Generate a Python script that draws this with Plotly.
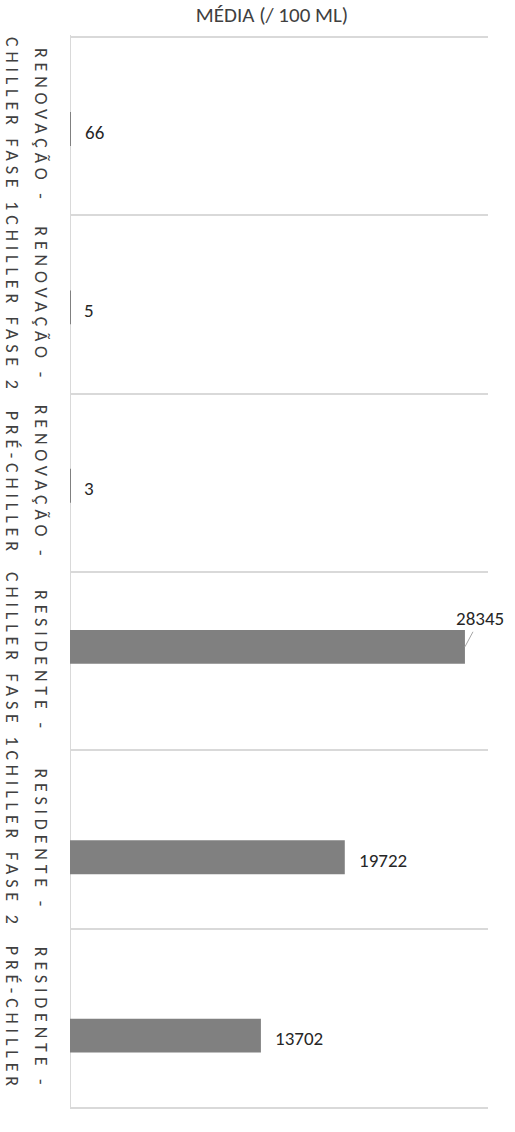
import plotly.graph_objects as go

# Data
categories = [
    "RENOVAÇÃO - CHILLER FASE 1",
    "RENOVAÇÃO - CHILLER FASE 2",
    "RENOVAÇÃO - PRÉ-CHILLER",
    "RESIDENTE - CHILLER FASE 1",
    "RESIDENTE - CHILLER FASE 2",
    "RESIDENTE - PRÉ-CHILLER",
]
# three series as in the source workbook (blank where a series has no value)
serie_1 = [None, None, None, 28345, None, None]
serie_2 = [66, 5, 3, None, None, None]
serie_3 = [None, None, None, None, 19722, 13702]
title_text = "MÉDIA (/ 100 ML)"

FONT = "Carlito, Calibri, Lato, sans-serif"
BAR_COLOR = "#808080"
GRID_COLOR = "#D9D9D9"
TEXT_COLOR = "#262626"

W, H = 515, 1132
M = dict(l=70, r=27, t=35, b=25)
BAND_PX = (H - M["t"] - M["b"]) / len(categories)
BAR_W = 0.19
# centre offset of each series' slot within a category band (category units)
SLOT = {"s1": -0.08, "s2": 0.017, "s3": 0.1}

fig = go.Figure()
annotations = []
for name, series in (("s1", serie_1), ("s2", serie_2), ("s3", serie_3)):
    off = SLOT[name]
    fig.add_trace(go.Bar(
        x=series, y=categories, orientation="h",
        marker=dict(color=BAR_COLOR, line=dict(width=0)),
        width=BAR_W, offset=off - BAR_W / 2,
        hoverinfo="x+y", name=name,
    ))
    shift_px = -off * BAND_PX  # screen shift (up positive)
    for cat, val in zip(categories, series):
        if val is None:
            continue
        if name == "s1":
            annotations.append(dict(
                x=val, y=cat, xref="x", yref="y", text=str(val),
                showarrow=True, arrowhead=0, arrowwidth=1, arrowcolor="#A6A6A6",
                ax=15, ay=-28, standoff=0, yshift=shift_px,
                font=dict(family=FONT, size=19, color=TEXT_COLOR),
            ))
        else:
            annotations.append(dict(
                x=val, y=cat, xref="x", yref="y", text=str(val),
                showarrow=False, xanchor="left", yanchor="middle",
                xshift=12, yshift=shift_px - 3,
                font=dict(family=FONT, size=19, color=TEXT_COLOR),
            ))

# category labels (rotated, two lines each)
for cat in categories:
    first, second = cat.split(" - ")
    for txt, shift in ((first + " -", -29), (second, -58)):
        annotations.append(dict(
            x=0, y=cat, xref="paper", yref="y",
            text='<span style="letter-spacing:4.8px">' + txt + '</span>',
            textangle=90, showarrow=False,
            xanchor="center", yanchor="middle", xshift=shift,
            font=dict(family=FONT, size=18, color="#404040"),
        ))

fig.update_layout(
    width=W, height=H, margin=M,
    paper_bgcolor="white", plot_bgcolor="white",
    showlegend=False, barmode="overlay",
    title=dict(
        text=title_text, x=272 / W, xref="container", xanchor="center",
        y=1 - 15 / H, yref="container", yanchor="middle",
        font=dict(family=FONT, size=21, color="#404040"),
    ),
    annotations=annotations,
)
fig.update_xaxes(
    range=[0, 30000], showticklabels=False, showgrid=False, zeroline=False,
    showline=True, linecolor=GRID_COLOR, linewidth=2, ticks="",
)
fig.update_yaxes(
    type="category", categoryorder="array", categoryarray=categories,
    autorange="reversed", tickson="boundaries",
    showgrid=True, gridcolor=GRID_COLOR, gridwidth=2,
    showticklabels=False, ticks="", showline=False, zeroline=False,
)
fig.add_shape(type="line", xref="x", yref="paper", x0=0, x1=0, y0=0, y1=1,
              line=dict(color=GRID_COLOR, width=2), layer="below")

fig.write_html("out.html")
